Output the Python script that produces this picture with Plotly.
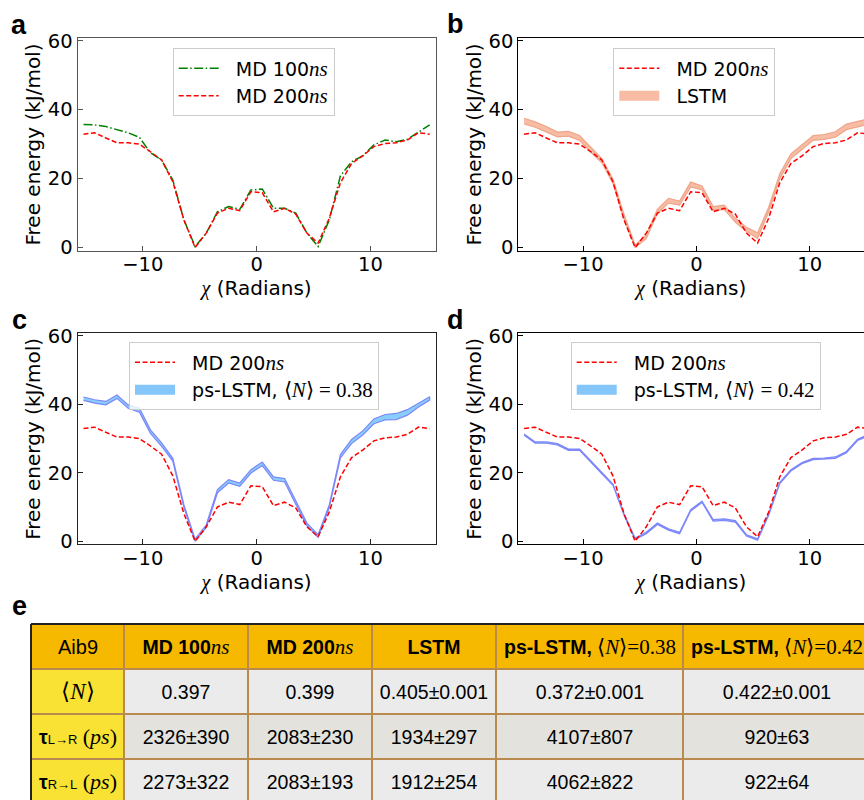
import plotly.graph_objects as go

# ---------------- data ----------------
chi = [-15.2, -14.22, -13.24, -12.26, -11.28, -10.3, -9.32, -8.34, -7.36, -6.38, -5.4,
       -4.42, -3.44, -2.46, -1.48, -0.5, 0.5, 1.48, 2.46, 3.44, 4.42, 5.4, 6.38, 7.36,
       8.34, 9.32, 10.3, 11.28, 12.26, 13.24, 14.22, 15.2]

md200 = [32.9, 33.3, 31.8, 30.4, 30.4, 30.0, 27.8, 25.4, 19.1, 8.0, 0.0, 4.2, 10.0, 11.4,
         10.7, 16.2, 15.9, 10.4, 11.4, 9.7, 4.2, 1.3, 8.5, 18.8, 24.4, 26.6, 29.3, 30.2,
         30.4, 31.2, 33.3, 32.9]

md100 = [35.7, 35.6, 35.1, 34.3, 33.3, 32.0, 27.5, 25.4, 19.6, 8.0, 0.3, 4.2, 10.4, 11.9,
         11.1, 16.7, 17.0, 11.4, 11.4, 10.0, 4.2, 0.3, 8.0, 20.8, 24.9, 26.6, 29.8, 31.2,
         30.7, 31.4, 33.6, 35.6]

lstm_lo = [35.9, 34.9, 33.5, 32.1, 32.3, 31.1, 27.7, 24.6, 18.6, 8.4, 0.0, 2.6, 9.9, 12.9,
           12.3, 17.6, 16.7, 10.7, 11.1, 7.3, 4.7, 2.7, 10.3, 20.0, 25.8, 28.4, 31.1, 31.4,
           32.0, 34.2, 34.9, 35.8]
lstm_hi = [37.5, 36.5, 35.1, 33.5, 33.7, 32.5, 29.1, 25.8, 19.8, 9.6, 0.7, 3.8, 11.1, 14.3,
           13.5, 19.0, 17.9, 11.9, 12.3, 8.5, 5.9, 4.3, 11.7, 21.4, 27.2, 29.8, 32.5, 32.8,
           33.6, 35.8, 36.5, 37.4]

ps38_lo = [41.1, 40.3, 39.8, 41.7, 38.8, 37.7, 31.5, 27.7, 23.4, 9.8, 0.0, 4.0, 14.1, 17.0,
           16.0, 19.9, 22.1, 17.8, 17.3, 10.8, 4.5, 1.1, 9.8, 24.3, 28.5, 31.0, 34.3, 35.4,
           35.5, 36.8, 39.2, 41.2]
ps38_hi = [42.1, 41.3, 40.8, 42.7, 39.8, 38.9, 32.5, 28.7, 24.2, 10.6, 0.6, 4.8, 15.1, 18.0,
           17.0, 20.9, 23.1, 18.8, 18.3, 11.6, 5.3, 1.9, 10.6, 25.3, 29.7, 32.2, 35.7, 37.0,
           37.3, 38.4, 40.4, 42.2]

ps42_lo = [30.9, 28.6, 28.6, 28.1, 26.5, 26.5, 23.1, 19.7, 16.3, 7.6, 0.5, 2.2, 4.9, 3.2,
           2.2, 8.8, 11.3, 5.9, 6.1, 5.6, 1.5, 0.3, 7.6, 16.8, 20.5, 22.6, 23.8, 23.9,
           24.2, 25.8, 29.4, 30.8]
ps42_hi = [31.3, 29.0, 29.0, 28.5, 26.9, 26.9, 23.5, 20.1, 16.7, 8.0, 0.9, 2.6, 5.3, 3.6,
           2.6, 9.2, 11.7, 6.3, 6.5, 6.0, 1.9, 0.7, 8.0, 17.2, 20.9, 23.0, 24.2, 24.3,
           24.6, 26.2, 29.8, 31.2]

y_ticks = [0, 20, 40, 60]
x_ticks = [-10, 0, 10]

SER = "font-family:Times"
ns = f"<span style='{SER};font-size:21px'><i>ns</i></span>"
PAD = "\u00a0\u00a0"
leg_md100 = PAD + "MD 100" + f"<span style='{SER};font-size:21px'><i>ns</i></span>"
leg_md200 = PAD + "MD 200" + f"<span style='{SER};font-size:21px'><i>ns</i></span>"
leg_lstm = PAD + "LSTM"
leg_ps38 = PAD + "ps-LSTM, " + f"<span style='{SER};font-size:21px'>⟨<i>N</i>⟩ = 0.38</span>"
leg_ps42 = PAD + "ps-LSTM, " + f"<span style='{SER};font-size:21px'>⟨<i>N</i>⟩ = 0.42</span>"

table_header = ["<span style='font-size:20px'>Aib9</span>",
                f"<b>MD 100</b>{ns}",
                f"<b>MD 200</b>{ns}",
                "<b>LSTM</b>",
                f"<b>ps-LSTM,</b> <span style='{SER};font-size:21px'>⟨<i>N</i>⟩=0.38</span>",
                f"<b>ps-LSTM,</b> <span style='{SER};font-size:21px'>⟨<i>N</i>⟩=0.42</span>"]
row_labels = [f"<span style='{SER};font-size:23px'>⟨<i>N</i>⟩</span>",
              f"<b>τ</b><span style='font-size:13px'>L→R</span> <span style='{SER};font-size:22px'>(<i>ps</i>)</span>",
              f"<b>τ</b><span style='font-size:13px'>R→L</span> <span style='{SER};font-size:22px'>(<i>ps</i>)</span>"]
col_md100 = ["0.397", "2326±390", "2273±322"]
col_md200 = ["0.399", "2083±230", "2083±193"]
col_lstm = ["0.405±0.001", "1934±297", "1912±254"]
col_ps38 = ["0.372±0.001", "4107±807", "4062±822"]
col_ps42 = ["0.422±0.001", "920±63", "922±64"]

# ---------------- figure ----------------
W, H = 864, 800
RED = "#ff0000"
GREEN = "#008000"
FONT = "DejaVu Sans"

fig = go.Figure()


def px_x(p):
    return p / W


def px_y(p):
    return 1 - p / H


red_line = dict(color=RED, width=1.5, dash="5px,2.5px")

# panel a
fig.add_trace(go.Scatter(x=chi, y=md100, mode="lines", name=leg_md100,
                         line=dict(color=GREEN, width=1.5, dash="9px,2.5px,1.5px,2.5px"),
                         xaxis="x", yaxis="y", legend="legend"))
fig.add_trace(go.Scatter(x=chi, y=md200, mode="lines", name=leg_md200,
                         line=red_line, xaxis="x", yaxis="y", legend="legend"))


def band(lo, hi, fill, edge, xa, ya):
    return go.Scatter(x=chi + chi[::-1], y=hi + lo[::-1], mode="lines", fill="toself",
                      fillcolor=fill, line=dict(color=edge, width=1.2), showlegend=False,
                      xaxis=xa, yaxis=ya, hoverinfo="skip")


def band_key(name, color, xa, ya, leg):
    return go.Scatter(x=[None], y=[None], mode="lines", name=name,
                      line=dict(color=color, width=14), xaxis=xa, yaxis=ya,
                      legend=leg, legendrank=2)


SAL_FILL = "rgba(245,160,125,0.7)"
SAL_EDGE = "rgba(236,160,130,0.9)"
BLUE_FILL = "rgb(135,206,250)"
BLUE_EDGE = "rgb(125,135,250)"

# panel b
fig.add_trace(band(lstm_lo, lstm_hi, SAL_FILL, SAL_EDGE, "x2", "y2"))
fig.add_trace(go.Scatter(x=chi, y=md200, mode="lines", name=leg_md200, line=red_line,
                         xaxis="x2", yaxis="y2", legend="legend2", legendrank=1))
fig.add_trace(band_key(leg_lstm, "rgb(248,188,164)", "x2", "y2", "legend2"))
# panel c
fig.add_trace(band(ps38_lo, ps38_hi, BLUE_FILL, BLUE_EDGE, "x3", "y3"))
fig.add_trace(go.Scatter(x=chi, y=md200, mode="lines", name=leg_md200, line=red_line,
                         xaxis="x3", yaxis="y3", legend="legend3", legendrank=1))
fig.add_trace(band_key(leg_ps38, "rgb(133,198,250)", "x3", "y3", "legend3"))
# panel d
fig.add_trace(band(ps42_lo, ps42_hi, BLUE_FILL, BLUE_EDGE, "x4", "y4"))
fig.add_trace(go.Scatter(x=chi, y=md200, mode="lines", name=leg_md200, line=red_line,
                         xaxis="x4", yaxis="y4", legend="legend4", legendrank=1))
fig.add_trace(band_key(leg_ps42, "rgb(133,198,250)", "x4", "y4", "legend4"))

# ---------------- table (panel e) as a heatmap of cells ----------------
ORG = "#f6b900"
YEL = "#f9e233"
G1 = "#ebebeb"
G2 = "#e3e2dd"
BORDER = "#b98a4e"
cell_cols = [row_labels, col_md100, col_md200, col_lstm, col_ps38, col_ps42]
table_text = [table_header] + [[col[i] for col in cell_cols] for i in range(3)]
# colour codes: 0 header, 1 row label, 2 light grey, 3 darker grey
table_kind = [[0, 0, 0, 0, 0, 0],
              [1, 2, 2, 2, 2, 2],
              [1, 3, 3, 3, 3, 3],
              [1, 2, 2, 2, 2, 2]]
col_edges = [0, 93, 217.3, 341, 464.7, 652.3, 839]
row_edges = [0, 45, 90, 135, 180]

fig.add_trace(go.Heatmap(
    z=table_kind, x=col_edges, y=row_edges, text=table_text, texttemplate="%{text}",
    textfont=dict(family="Liberation Sans", size=19.5, color="black"),
    colorscale=[[0, ORG], [1 / 3, YEL], [2 / 3, G1], [1, G2]], zmin=0, zmax=3,
    showscale=False, xgap=2, ygap=2, hoverinfo="skip", xaxis="x5", yaxis="y5"))


# axes
def xax(dom, rng, color):
    return dict(domain=dom, range=rng, showline=True, linecolor=color, linewidth=1.2,
                mirror=True, ticks="inside", ticklen=5, tickwidth=1, tickcolor=color,
                tickvals=x_ticks, showgrid=False, zeroline=False, automargin=False,
                ticklabelstandoff=-4,
                tickfont=dict(family=FONT, size=19.5, color="black"),
                title=dict(text=f"<span style='{SER}'><i>χ</i></span> (Radians)",
                           font=dict(family=FONT, size=20, color="black"), standoff=1))


def yax(dom, color, mirror, anchor):
    return dict(domain=dom, range=[-0.9, 60.7], showline=True, linecolor=color, linewidth=1.2,
                mirror=mirror, ticks="inside", ticklen=5, tickwidth=1, tickcolor=color,
                tickvals=y_ticks, showgrid=False, zeroline=False, automargin=False,
                anchor=anchor,
                tickfont=dict(family=FONT, size=19.5, color="black"),
                title=dict(text="Free energy (kJ/mol)",
                           font=dict(family=FONT, size=20, color="black"), standoff=1))


top_dom = [px_y(250.7), px_y(38.3)]
bot_dom = [px_y(544.3), px_y(333.3)]
left_dom = [px_x(77.7), px_x(435.5)]
right_dom = [px_x(518.3), 1.0]
full_rng = [-15.71, 15.71]
right_rng = [-15.71, (864 - 695.7) / 11.38]
TAB_L = 31.0
TAB_T = 624.0


def legend(x, y):
    return dict(x=px_x(x), y=px_y(y), xanchor="left", yanchor="top",
                bgcolor="rgba(255,255,255,0.8)", bordercolor="#cccccc", borderwidth=1,
                font=dict(family=FONT, size=19, color="black"), itemwidth=40,
                tracegroupgap=0)


fig.update_layout(
    width=W, height=H, margin=dict(l=0, r=0, t=0, b=0),
    paper_bgcolor="white", plot_bgcolor="white",
    font=dict(family=FONT, size=18, color="black"),
    xaxis=dict(**xax(left_dom, full_rng, "#555555"), anchor="y"),
    yaxis=yax(top_dom, "#555555", True, "x"),
    xaxis2=dict(**xax(right_dom, right_rng, "black"), anchor="y2"),
    yaxis2=yax(top_dom, "black", False, "x2"),
    xaxis3=dict(**xax(left_dom, full_rng, "#222222"), anchor="y3"),
    yaxis3=yax(bot_dom, "#222222", True, "x3"),
    xaxis4=dict(**xax(right_dom, right_rng, "black"), anchor="y4"),
    yaxis4=yax(bot_dom, "black", False, "x4"),
    xaxis5=dict(domain=[px_x(TAB_L), 1.0], range=[0, W - TAB_L], visible=False,
                anchor="y5", fixedrange=True),
    yaxis5=dict(domain=[0.0, px_y(TAB_T)], range=[H - TAB_T, 0], visible=False,
                anchor="x5", fixedrange=True),
    legend=legend(172.7, 48.3),
    legend2=legend(613.3, 48.3),
    legend3=legend(129, 342.3),
    legend4=legend(570.7, 342.3),
    showlegend=True,
)

# table grid colour behind the cells, and dark outer edges
fig.add_shape(type="rect", xref="paper", yref="paper", x0=px_x(TAB_L), x1=1.0,
              y0=0.0, y1=px_y(TAB_T), line=dict(width=0), fillcolor=BORDER, layer="below")
fig.add_shape(type="line", xref="paper", yref="paper", x0=px_x(TAB_L), x1=1.0,
              y0=px_y(TAB_T), y1=px_y(TAB_T), line=dict(color="#222222", width=2))
fig.add_shape(type="line", xref="paper", yref="paper", x0=px_x(TAB_L), x1=px_x(TAB_L),
              y0=0.0, y1=px_y(TAB_T), line=dict(color="#222222", width=2))

# panel letters
for letter, (lx, ly) in {"a": (19, 25), "b": (455, 24), "c": (19, 320), "d": (455, 320),
                         "e": (19, 606)}.items():
    fig.add_annotation(text=f"<b>{letter}</b>", x=px_x(lx), y=px_y(ly), xref="paper",
                       yref="paper", showarrow=False, xanchor="center", yanchor="middle",
                       font=dict(family="Liberation Sans", size=27, color="black"))

fig.write_html("out.html", config={"displayModeBar": False},
               post_script="document.body.style.margin='0px';document.body.style.overflow='hidden';")
